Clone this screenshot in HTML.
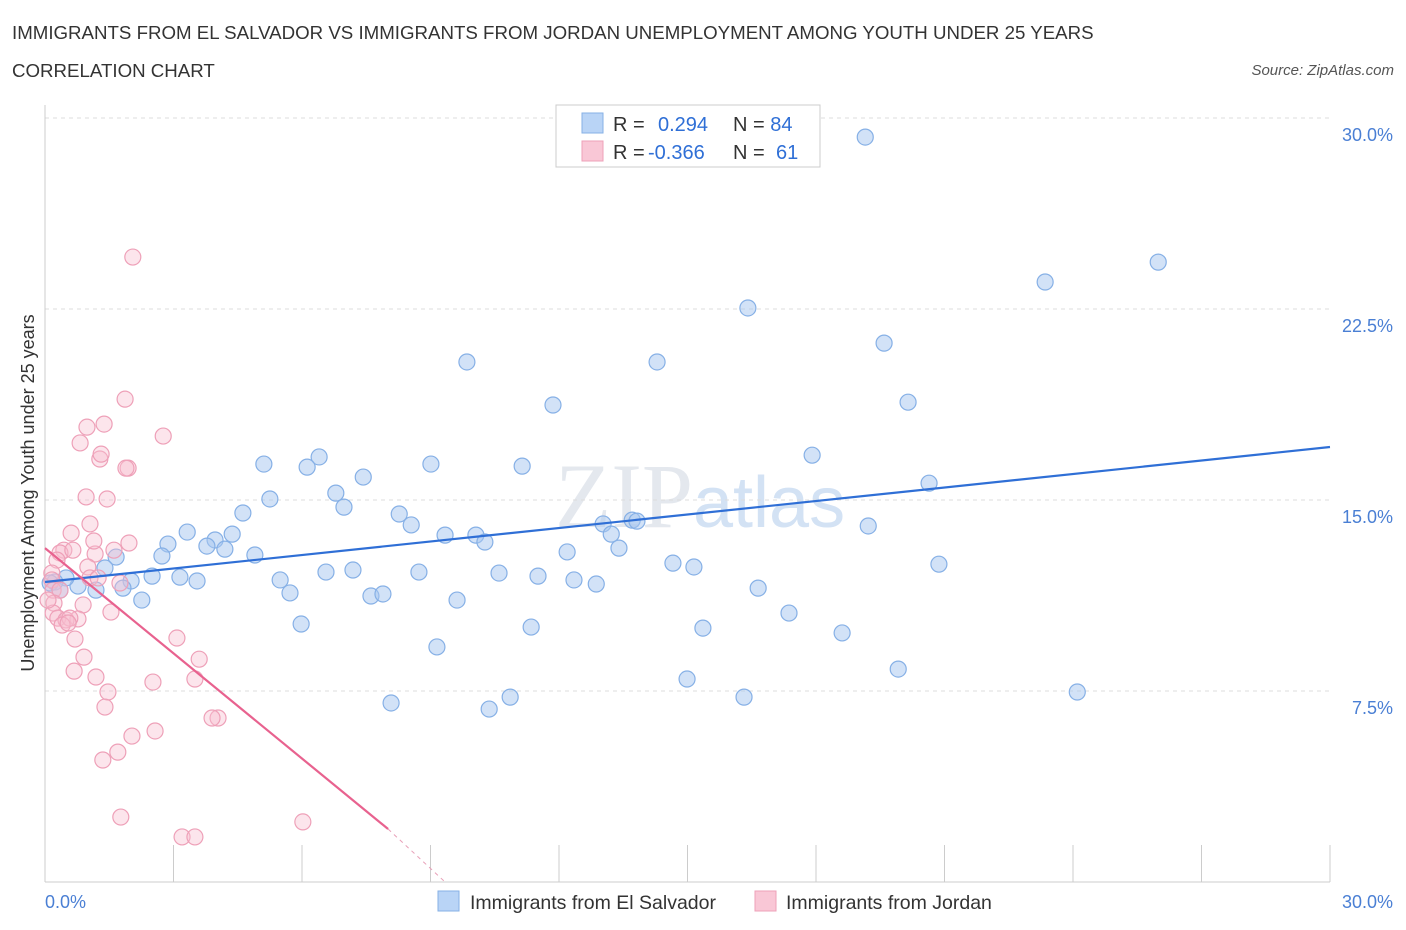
<!DOCTYPE html>
<html><head><meta charset="utf-8">
<style>
body{margin:0;background:#fff;font-family:"Liberation Sans",sans-serif;}
#wrap{position:relative;width:1406px;height:930px;overflow:hidden;}
.t{position:absolute;white-space:nowrap;}
</style></head>
<body>
<div id="wrap">
<div class="t" style="left:12px;top:22px;font-size:18.7px;color:#333;">IMMIGRANTS FROM EL SALVADOR VS IMMIGRANTS FROM JORDAN UNEMPLOYMENT AMONG YOUTH UNDER 25 YEARS</div>
<div class="t" style="left:12px;top:60px;font-size:18.7px;color:#333;">CORRELATION CHART</div>
<div class="t" style="right:12px;top:62px;font-size:15px;color:#555;font-style:italic;">Source: ZipAtlas.com</div>
<svg id="svg" width="1406" height="930" style="position:absolute;left:0;top:0"></svg>
</div>
<script>
const blueX=[19.15,25.99,23.35,16.41,19.59,9.85,14.29,11.86,20.15,5.11,6.40,6.12,9.01,11.14,17.91,7.43,5.25,6.79,6.98,4.62,20.64,3.32,4.37,3.97,3.78,4.20,2.87,2.73,4.90,1.66,1.40,8.27,8.55,9.34,10.06,10.27,13.03,13.22,13.71,13.82,13.40,12.19,19.22,14.66,15.15,20.87,6.56,7.19,8.73,10.60,11.51,12.35,12.87,5.49,5.72,7.61,7.89,9.62,3.55,3.15,2.50,2.01,1.82,2.26,1.19,0.77,0.49,0.23,0.12,0.35,16.65,17.37,5.98,11.35,15.36,18.61,9.15,19.92,14.99,24.10,16.32,8.08,10.86,10.37];
const blueY=[29.25,24.34,23.56,22.54,21.16,20.42,20.42,18.73,18.84,16.41,16.69,16.29,16.41,16.33,16.76,15.90,15.04,15.27,14.72,14.49,15.66,13.74,13.66,13.43,13.19,13.07,13.27,12.80,12.84,12.76,12.33,14.45,14.02,13.62,13.62,13.35,14.06,13.66,14.21,14.17,13.11,12.96,13.98,12.52,12.37,12.48,12.17,12.25,12.17,12.13,12.01,11.86,11.70,11.86,11.35,11.23,11.31,11.07,11.82,11.97,12.01,11.82,11.54,11.07,11.46,11.62,11.94,11.78,11.74,11.46,11.54,10.56,10.13,10.01,9.97,9.78,9.23,8.36,7.97,7.46,7.26,7.03,7.26,6.79];
const pinkX=[2.05,1.87,1.38,0.82,0.98,2.76,1.28,1.31,1.94,1.89,0.96,1.45,1.05,0.61,0.44,0.35,0.65,1.17,1.14,1.96,1.61,0.28,0.16,0.16,0.19,0.35,1.00,1.05,1.24,1.75,1.54,0.89,0.77,0.21,0.19,0.30,0.49,0.58,0.40,0.54,0.70,3.08,0.91,3.60,0.68,1.19,2.52,3.50,1.47,1.40,4.04,3.90,2.57,2.03,1.70,1.35,1.77,3.20,3.50,6.02,0.07];
const pinkY=[24.54,18.96,17.98,17.24,17.86,17.51,16.61,16.80,16.25,16.25,15.12,15.04,14.06,13.70,13.03,12.92,13.03,12.88,13.39,13.31,13.03,12.64,12.13,11.86,11.46,11.46,12.37,11.94,11.94,11.74,10.60,10.88,10.33,10.95,10.56,10.36,10.29,10.36,10.09,10.17,9.54,9.58,8.83,8.75,8.28,8.05,7.85,7.97,7.46,6.87,6.44,6.44,5.93,5.73,5.10,4.79,2.55,1.77,1.77,2.36,11.07];
const blueTrendX=[0,30], blueTrendY=[11.78,17.08];
const pinkTrendX=[0,8.01,9.34], pinkTrendY=[13.11,2.08,0];
const yTicks=[7.5,15,22.5,30], yTickLabels=["7.5%","15.0%","22.5%","30.0%"];
const xTicks=[0,3,6,9,12,15,18,21,24,27,30];

const NS="http://www.w3.org/2000/svg", svg=document.getElementById('svg');
const X=v=>45+v*42.833, Y=v=>882-v*25.467;
function mk(tag,attrs,parent){const e=document.createElementNS(NS,tag);for(const k in attrs)e.setAttribute(k,attrs[k]);(parent||svg).appendChild(e);return e;}

let wm=mk('text',{x:555,y:527,'font-size':92,'font-family':'Liberation Serif,serif',fill:'#e4e8ee'});


wm.innerHTML='ZIP<tspan fill="#d3e2f4" font-family="Liberation Sans,sans-serif" font-size="72">atlas</tspan>';

yTicks.forEach((v,i)=>{
  const g=mk('line',{x1:45,x2:1330,y1:Y(v),y2:Y(v),stroke:'#dcdcdc','stroke-dasharray':'4,4'});
  
  
  const t=mk('text',{x:1393,y:Y(v)+23,'text-anchor':'end','font-size':18,fill:'#4a7fd4'});
  
  
  t.textContent=yTickLabels[i];
});
let ya=mk('line',{x1:45,x2:45,y1:105,y2:882,stroke:'#ccc'});


let xa=mk('line',{x1:45,x2:1330,y1:882,y2:882,stroke:'#ccc'});


xTicks.forEach(v=>{
  const l=mk('line',{x1:X(v),x2:X(v),y1:845,y2:882,stroke:'#ccc'});
  
  
});
let xl0=mk('text',{x:45,y:908,'font-size':18,fill:'#4a7fd4'});xl0.textContent='0.0%';


let xl1=mk('text',{x:1393,y:908,'text-anchor':'end','font-size':18,fill:'#4a7fd4'});xl1.textContent='30.0%';


let yt=mk('text',{transform:'translate(34,493) rotate(-90)','text-anchor':'middle','font-size':18,fill:'#333'});
yt.textContent='Unemployment Among Youth under 25 years';



blueX.forEach((v,i)=>{
  const c=mk('circle',{cx:X(v),cy:Y(blueY[i]),r:8,fill:'rgba(165,198,240,0.5)',stroke:'#86b0e6','stroke-width':1.2});
  
  
});
pinkX.forEach((v,i)=>{
  const c=mk('circle',{cx:X(v),cy:Y(pinkY[i]),r:8,fill:'rgba(248,190,208,0.4)',stroke:'#eea0b8','stroke-width':1.2});
  
  
});
let bt=mk('line',{x1:X(blueTrendX[0]),y1:Y(blueTrendY[0]),x2:X(blueTrendX[1]),y2:Y(blueTrendY[1]),stroke:'#2f6fd6','stroke-width':2.2});


let pt=mk('line',{x1:X(pinkTrendX[0]),y1:Y(pinkTrendY[0]),x2:X(pinkTrendX[1]),y2:Y(pinkTrendY[1]),stroke:'#e8628f','stroke-width':2.2});


let pd=mk('line',{x1:X(pinkTrendX[1]),y1:Y(pinkTrendY[1]),x2:X(pinkTrendX[2]),y2:Y(pinkTrendY[2]),stroke:'#e8a0b8','stroke-width':1,'stroke-dasharray':'4,4'});



let lb=mk('rect',{x:556,y:105,width:264,height:62,fill:'#fff',stroke:'#ccc'});


let s1=mk('rect',{x:582,y:113,width:21,height:20,fill:'#b9d4f6',stroke:'#86b0e6'});


let s2=mk('rect',{x:582,y:141,width:21,height:20,fill:'#f9c7d6',stroke:'#eea0b8'});


let r1=mk('text',{x:613,y:131,'font-size':20,fill:'#333'});
r1.innerHTML='R = <tspan fill="#2f6fd6" x="658">0.294</tspan><tspan x="733">N = </tspan><tspan fill="#2f6fd6">84</tspan>';


let r2=mk('text',{x:613,y:159,'font-size':20,fill:'#333'});
r2.innerHTML='R = <tspan fill="#2f6fd6" x="648">-0.366</tspan><tspan x="733">N = </tspan><tspan fill="#2f6fd6" x="776">61</tspan>';



let b1=mk('rect',{x:438,y:891,width:21,height:20,fill:'#b9d4f6',stroke:'#86b0e6'});


let bl1=mk('text',{x:470,y:909,'font-size':19.5,fill:'#333'});bl1.textContent='Immigrants from El Salvador';


let b2=mk('rect',{x:755,y:891,width:21,height:20,fill:'#f9c7d6',stroke:'#eea0b8'});


let bl2=mk('text',{x:786,y:909,'font-size':19.5,fill:'#333'});bl2.textContent='Immigrants from Jordan';


</script>
</body></html>
